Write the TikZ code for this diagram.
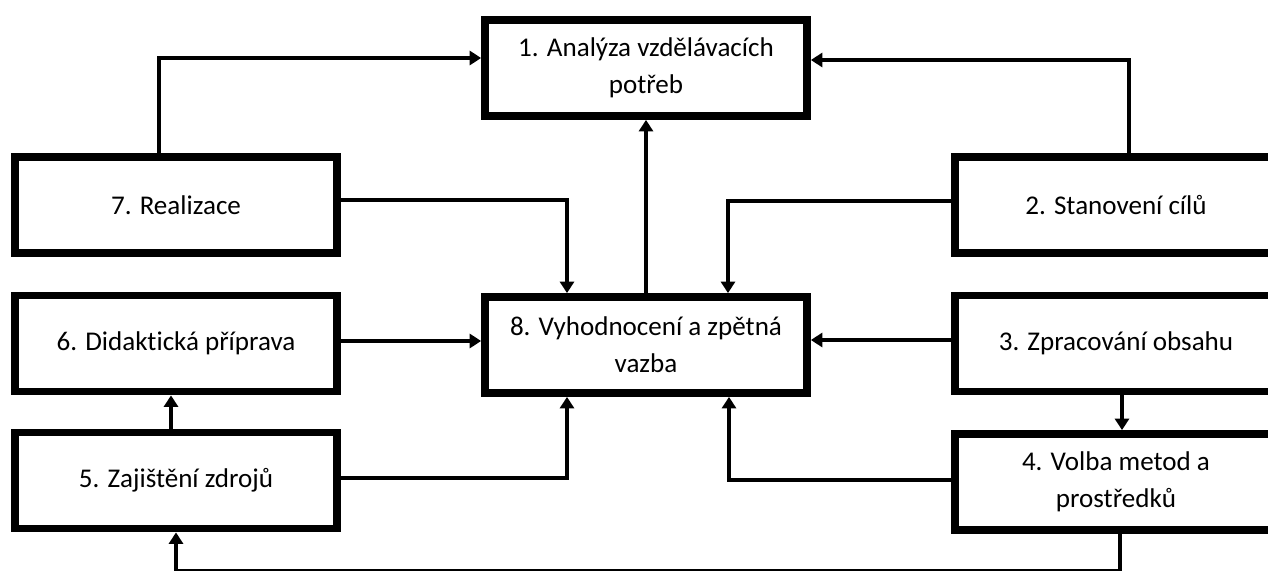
\documentclass[tikz,border=0pt]{standalone}
\usepackage{fontspec}
\setmainfont{Carlito}[Ligatures=NoCommon]
\usetikzlibrary{arrows.meta}

\begin{document}
\begin{tikzpicture}[x=0.02cm, y=-0.02cm,
        >={Triangle[length=6.5pt,width=8pt]},
        box/.style={draw, line width=4.5pt, minimum width=6.44cm, minimum height=1.92cm,
            align=center, inner sep=0pt, font=\fontsize{15.4}{21}\selectfont},
        flow/.style={->, line width=1.8pt}]

        % Frame of the figure (right column runs off the edge)
        \useasboundingbox (0,0) rectangle (1268,571);
        \clip (0,0) rectangle (1268,571);

        % Middle column
        \node[box] (b1) at (646,68) {1. Analýza vzdělávacích\\potřeb};
        \node[box] (b8) at (646,345) {8. Vyhodnocení a zpětná\\vazba};

        % Left column
        \node[box] (b7) at (176,205) {7. Realizace};
        \node[box] (b6) at (176,343.5) {6. Didaktická příprava};
        \node[box] (b5) at (176,480.5) {5. Zajištění zdrojů};

        % Right column
        \node[box] (b2) at (1116,205) {2. Stanovení cílů};
        \node[box] (b3) at (1116,343.5) {3. Zpracování obsahu};
        \node[box] (b4) at (1116,482) {4. Volba metod a\\prostředků};

        % Bend points of the connectors
        \coordinate (k71) at (159,58);
        \coordinate (k21) at (1129,60);
        \coordinate (k78) at (567,200);
        \coordinate (k28) at (728,201);
        \coordinate (k68) at (0,341);
        \coordinate (k38) at (0,340);
        \coordinate (k58) at (567,478);
        \coordinate (k48) at (729,480);
        \coordinate (k56) at (171,0);
        \coordinate (k34) at (1122,0);
        \coordinate (k4d) at (1120,570.5);
        \coordinate (k5d) at (176,570.5);

        % Into analysis
        \draw[flow] (b7.north -| k71) |- (b1.west |- k71);
        \draw[flow] (b2.north -| k21) |- (b1.east |- k21);
        \draw[flow] (b8) -- (b1);

        % Into evaluation, from above
        \draw[flow] (b7.east |- k78) -| (b8.north -| k78);
        \draw[flow] (b2.west |- k28) -| (b8.north -| k28);

        % Into evaluation, from the sides
        \draw[flow] (b6.east |- k68) -- (b8.west |- k68);
        \draw[flow] (b3.west |- k38) -- (b8.east |- k38);

        % Into evaluation, from below
        \draw[flow] (b5.east |- k58) -| (b8.south -| k58);
        \draw[flow] (b4.west |- k48) -| (b8.south -| k48);

        % Steps down the columns
        \draw[flow] (b3.south -| k34) -- (b4.north -| k34);
        \draw[flow] (b5.north -| k56) -- (b6.south -| k56);

        % Back round the bottom
        \draw[flow] (b4.south -| k4d) -- (k4d) -- (k5d) -- (b5.south -| k5d);

    \end{tikzpicture}
\end{document}
